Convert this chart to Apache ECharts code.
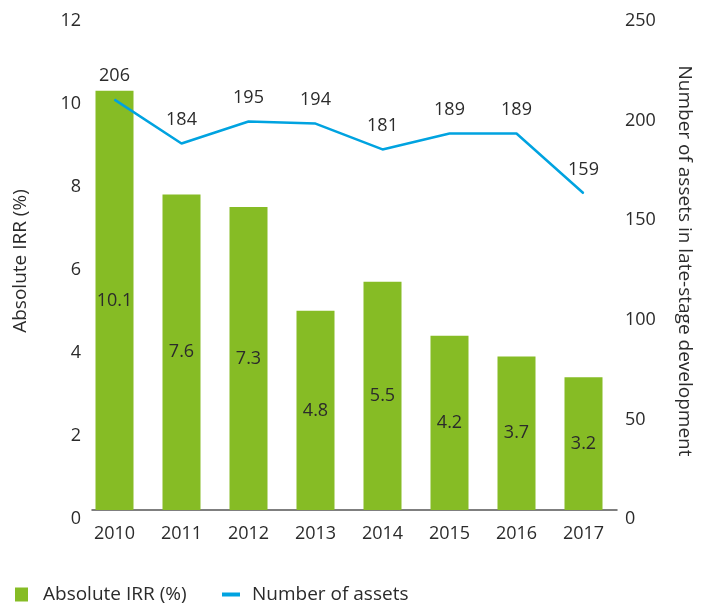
<!DOCTYPE html>
<html>
<head>
<meta charset="utf-8">
<script src="https://cdn.jsdelivr.net/npm/echarts@6/dist/echarts.min.js"></script>
<style>
  html, body { margin: 0; padding: 0; background: #fff; }
  #chart { width: 709px; height: 607px; }
</style>
</head>
<body>
<div id="chart"></div>
<script>
// data
var years = ["2010", "2011", "2012", "2013", "2014", "2015", "2016", "2017"];
var irr = [10.1, 7.6, 7.3, 4.8, 5.5, 4.2, 3.7, 3.2];
var assets = [206, 184, 195, 194, 181, 189, 189, 159];

var FONT = "Open Sans";
var TXT = "#2b2b2b";
var FS = 18;   // tick / value labels
var FN = 19;   // axis names and legend

var chart = echarts.init(document.getElementById("chart"));
var option = {
  textStyle: { fontFamily: FONT },
  animation: false,
  // grid 0 holds the bars/line, grid 1 only draws the axis line (a bit narrower on the left)
  grid: [
    { left: 81, right: 92, top: 12, bottom: 97 },
    { left: 92, right: 92, top: 12, bottom: 97 }
  ],
  legend: [
    {
      data: ["Absolute IRR (%)"],
      left: 15, bottom: 3, padding: 0,
      icon: "rect", itemWidth: 13, itemHeight: 14,
      textStyle: { color: TXT, fontSize: FN, fontFamily: FONT, padding: [0, 0, 0, 10] }
    },
    {
      data: ["Number of assets"],
      left: 222, bottom: 3, padding: 0,
      icon: "rect", itemWidth: 18, itemHeight: 4,
      textStyle: { color: TXT, fontSize: FN, fontFamily: FONT, padding: [0, 0, 0, 7] }
    }
  ],
  xAxis: [
    {
      type: "category",
      gridIndex: 0,
      data: years,
      axisTick: { show: false },
      axisLine: { show: false },
      axisLabel: { color: TXT, fontSize: FS, margin: 15, fontFamily: FONT }
    },
    {
      type: "category",
      gridIndex: 1,
      data: years,
      axisTick: { show: false },
      axisLabel: { show: false },
      axisLine: { lineStyle: { color: "#555", width: 1.5 } }
    }
  ],
  yAxis: [
    {
      type: "value",
      gridIndex: 0,
      min: 0, max: 12, interval: 2,
      show: false
    },
    {
      type: "value",
      gridIndex: 0,
      min: 0, max: 250, interval: 50,
      show: false
    },
    {
      type: "value",
      gridIndex: 1,
      position: "left",
      min: 0, max: 12, interval: 2,
      name: "Absolute IRR (%)",
      nameLocation: "middle",
      nameGap: 62,
      nameTextStyle: { color: TXT, fontSize: FN, fontFamily: FONT },
      splitLine: { show: false },
      axisLine: { show: false },
      axisTick: { show: false },
      axisLabel: { color: TXT, fontSize: FS, margin: 11, verticalAlign: "top", fontFamily: FONT }
    },
    {
      type: "value",
      gridIndex: 1,
      position: "right",
      min: 0, max: 250, interval: 50,
      name: "Number of assets in late-stage development",
      nameLocation: "middle",
      nameRotate: -90,
      nameGap: 58,
      nameTextStyle: { color: TXT, fontSize: FN, fontFamily: FONT },
      splitLine: { show: false },
      axisLine: { show: false },
      axisTick: { show: false },
      axisLabel: { color: TXT, fontSize: FS, margin: 8, verticalAlign: "top", fontFamily: FONT }
    }
  ],
  series: [
    {
      name: "Absolute IRR (%)",
      type: "bar",
      xAxisIndex: 0,
      yAxisIndex: 0,
      data: irr,
      barWidth: 38,
      itemStyle: { color: "#86bc25" },
      label: {
        show: true, position: "inside",
        color: TXT, fontSize: FS, fontFamily: FONT
      }
    },
    {
      name: "Number of assets",
      type: "line",
      xAxisIndex: 0,
      yAxisIndex: 1,
      data: assets,
      showSymbol: true,
      symbol: "circle",
      symbolSize: 1,
      itemStyle: { color: "#00a3e0" },
      lineStyle: { color: "#00a3e0", width: 2.5 },
      label: {
        show: true, position: "top", distance: 14,
        color: TXT, fontSize: FS, fontFamily: FONT
      }
    }
  ]
};
chart.setOption(option);
</script>
</body>
</html>
